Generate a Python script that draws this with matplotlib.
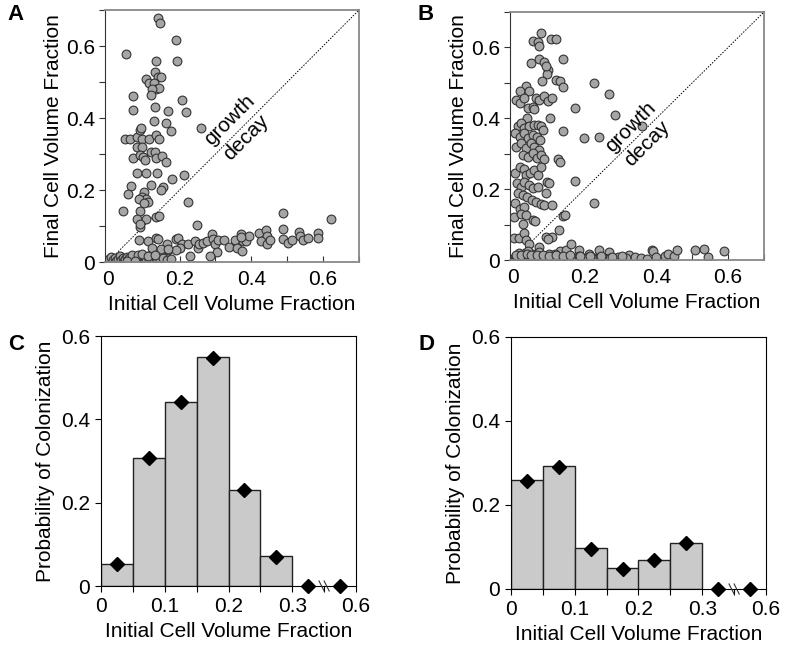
import numpy as np
import matplotlib
matplotlib.use('Agg')
import matplotlib.pyplot as plt

plt.rcParams['font.family'] = ['Liberation Sans', 'DejaVu Sans']
plt.rcParams['font.size'] = 15

# ---- panel A scatter (initial vs final volume fraction) ----
a_x = [0.139, 0.144, 0.050, 0.189, 0.194, 0.133, 0.106, 0.114, 0.131, 0.139, 0.147, 0.128,
       0.135, 0.143, 0.124, 0.069, 0.121, 0.207, 0.219, 0.069, 0.131, 0.167, 0.161, 0.177,
       0.259, 0.128, 0.048, 0.061, 0.080, 0.096, 0.115, 0.133, 0.143, 0.089, 0.093, 0.081,
       0.094, 0.070, 0.089, 0.098, 0.103, 0.121, 0.131, 0.135, 0.152, 0.161, 0.081, 0.107,
       0.137, 0.180, 0.212, 0.064, 0.056, 0.121, 0.154, 0.148, 0.101, 0.094, 0.107, 0.087,
       0.112, 0.101, 0.089, 0.041, 0.223, 0.081, 0.107, 0.135, 0.143, 0.089, 0.089, 0.248,
       # lower band
       0.087, 0.112, 0.133, 0.141, 0.124, 0.149, 0.166, 0.168, 0.189, 0.196, 0.207, 0.200,
       0.189, 0.224, 0.228, 0.244, 0.250, 0.254, 0.265, 0.276, 0.291, 0.293, 0.300, 0.304,
       0.285, 0.307, 0.325, 0.337, 0.354, 0.359, 0.372, 0.376, 0.374, 0.385, 0.394, 0.422,
       0.441, 0.443, 0.428, 0.444, 0.452, 0.487, 0.487, 0.489, 0.502, 0.513, 0.533, 0.535,
       0.544, 0.559, 0.585, 0.587, 0.622, 0.371, 0.149, 0.168,
       # near zero
       0.004, 0.009, 0.014, 0.019, 0.022, 0.028, 0.033, 0.036, 0.041, 0.045, 0.048, 0.053,
       0.057, 0.060, 0.064, 0.068, 0.072, 0.076, 0.079, 0.083, 0.087, 0.091, 0.095, 0.099,
       0.103, 0.107, 0.111, 0.116, 0.120, 0.124, 0.128, 0.133, 0.138, 0.146, 0.153, 0.164,
       0.177, 0.066, 0.084, 0.095, 0.112, 0.131, 0.052, 0.075]
a_y = [0.678, 0.664, 0.577, 0.618, 0.557, 0.557, 0.509, 0.496, 0.528, 0.514, 0.513, 0.498,
       0.481, 0.484, 0.481, 0.462, 0.465, 0.451, 0.417, 0.423, 0.430, 0.419, 0.387, 0.365,
       0.373, 0.393, 0.342, 0.341, 0.346, 0.341, 0.342, 0.354, 0.341, 0.367, 0.373, 0.320,
       0.320, 0.288, 0.297, 0.292, 0.283, 0.306, 0.306, 0.290, 0.294, 0.278, 0.246, 0.246,
       0.247, 0.231, 0.242, 0.211, 0.190, 0.213, 0.208, 0.199, 0.194, 0.180, 0.176, 0.176,
       0.166, 0.163, 0.143, 0.141, 0.168, 0.120, 0.120, 0.126, 0.129, 0.096, 0.106, 0.103,
       0.061, 0.059, 0.068, 0.063, 0.040, 0.031, 0.051, 0.033, 0.063, 0.068, 0.051, 0.038,
       0.033, 0.049, 0.017, 0.059, 0.040, 0.051, 0.054, 0.057, 0.077, 0.063, 0.051, 0.029,
       0.017, 0.061, 0.061, 0.042, 0.061, 0.038, 0.077, 0.059, 0.031, 0.057, 0.071, 0.081,
       0.089, 0.073, 0.059, 0.051, 0.061, 0.137, 0.091, 0.065, 0.054, 0.061, 0.082, 0.073,
       0.061, 0.066, 0.080, 0.066, 0.120, 0.070, 0.036, 0.036,
       0.008, 0.015, 0.006, 0.012, 0.004, 0.009, 0.017, 0.005, 0.011, 0.003, 0.008, 0.014,
       0.006, 0.010, 0.004, 0.012, 0.007, 0.003, 0.009, 0.015, 0.005, 0.011, 0.006, 0.013,
       0.004, 0.009, 0.016, 0.005, 0.011, 0.007, 0.004, 0.012, 0.008, 0.005, 0.010, 0.006,
       0.007, 0.020, 0.019, 0.021, 0.018, 0.020, 0.002, 0.002]

# ---- panel B scatter ----
b_x = [0.079, 0.057, 0.071, 0.106, 0.120, 0.074, 0.051, 0.074, 0.088, 0.097, 0.094, 0.093,
       0.141, 0.081, 0.120, 0.132, 0.141, 0.227, 0.269, 0.009, 0.019, 0.037, 0.019, 0.046,
       0.032, 0.042, 0.057, 0.065, 0.074, 0.088, 0.097, 0.109, 0.060, 0.174, 0.285, 0.104,
       0.039, 0.014, 0.023, 0.032, 0.046, 0.060, 0.069, 0.079, 0.085, 0.007, 0.019, 0.032,
       0.042, 0.056, 0.067, 0.076, 0.141, 0.199, 0.241, 0.359, 0.009, 0.023, 0.037, 0.051,
       0.060, 0.072, 0.028, 0.042, 0.056, 0.067, 0.079, 0.088, 0.125, 0.130, 0.007, 0.019,
       0.030, 0.037, 0.048, 0.060, 0.069, 0.079, 0.094, 0.100, 0.174, 0.011, 0.023, 0.032,
       0.046, 0.056, 0.069, 0.014, 0.028, 0.039, 0.054, 0.065, 0.079, 0.093, 0.088, 0.109,
       0.227, 0.007, 0.019, 0.032, 0.002, 0.023, 0.037, 0.056, 0.063, 0.028, 0.141, 0.144,
       0.002, 0.017, 0.030, 0.037, 0.046, 0.072, 0.093, 0.109, 0.097, 0.128,
       # low band
       0.056, 0.074, 0.102, 0.130, 0.148, 0.162, 0.185, 0.213, 0.241, 0.269, 0.324, 0.341,
       0.356, 0.375, 0.389, 0.391, 0.398, 0.424, 0.433, 0.449, 0.458, 0.507, 0.532, 0.544,
       0.588, 0.017, 0.026, 0.043, 0.088, 0.117,
       # near zero
       0.003, 0.006, 0.009, 0.012, 0.015, 0.018, 0.021, 0.024, 0.027, 0.030, 0.033, 0.036,
       0.039, 0.042, 0.045, 0.049, 0.052, 0.056, 0.059, 0.063, 0.066, 0.070, 0.074, 0.078,
       0.082, 0.086, 0.090, 0.095, 0.099, 0.104, 0.109, 0.114, 0.119, 0.125, 0.131, 0.137,
       0.143, 0.149, 0.156, 0.163, 0.170, 0.177, 0.185, 0.193, 0.201, 0.209, 0.218, 0.226,
       0.235, 0.244, 0.253, 0.262, 0.272, 0.282, 0.292, 0.303, 0.314, 0.010, 0.024, 0.038,
       0.051, 0.068, 0.084, 0.101, 0.121, 0.140, 0.160, 0.188, 0.215, 0.247, 0.277, 0.305]
b_y = [0.641, 0.618, 0.615, 0.624, 0.624, 0.603, 0.556, 0.568, 0.558, 0.537, 0.526, 0.547,
       0.566, 0.504, 0.509, 0.504, 0.488, 0.500, 0.469, 0.452, 0.443, 0.492, 0.476, 0.476,
       0.457, 0.429, 0.433, 0.457, 0.452, 0.462, 0.450, 0.457, 0.426, 0.429, 0.408, 0.400,
       0.400, 0.377, 0.386, 0.372, 0.377, 0.381, 0.381, 0.377, 0.367, 0.358, 0.348, 0.358,
       0.344, 0.353, 0.348, 0.339, 0.365, 0.344, 0.346, 0.379, 0.320, 0.330, 0.315, 0.330,
       0.320, 0.311, 0.297, 0.292, 0.301, 0.287, 0.297, 0.284, 0.284, 0.278, 0.246, 0.263,
       0.256, 0.240, 0.245, 0.254, 0.240, 0.263, 0.221, 0.218, 0.223, 0.216, 0.207, 0.221,
       0.212, 0.202, 0.207, 0.188, 0.183, 0.178, 0.169, 0.164, 0.158, 0.188, 0.155, 0.155,
       0.161, 0.160, 0.145, 0.150, 0.122, 0.131, 0.127, 0.112, 0.110, 0.103, 0.124, 0.127,
       0.063, 0.063, 0.076, 0.056, 0.046, 0.037, 0.065, 0.065, 0.058, 0.084,
       0.018, 0.023, 0.018, 0.025, 0.029, 0.046, 0.027, 0.018, 0.029, 0.022, 0.013, 0.008,
       0.007, 0.004, 0.029, 0.025, 0.008, 0.010, 0.016, 0.012, 0.029, 0.029, 0.032, 0.008,
       0.025, 0.021, 0.014, 0.024, 0.012, 0.016,
       0.006, 0.003, 0.010, 0.004, 0.008, 0.002, 0.011, 0.005, 0.007, 0.003, 0.009, 0.004,
       0.012, 0.006, 0.002, 0.008, 0.004, 0.010, 0.005, 0.003, 0.009, 0.006, 0.002, 0.011,
       0.004, 0.007, 0.003, 0.009, 0.005, 0.002, 0.008, 0.004, 0.010, 0.006, 0.003, 0.008,
       0.005, 0.002, 0.009, 0.004, 0.007, 0.003, 0.010, 0.005, 0.002, 0.008, 0.004, 0.006,
       0.003, 0.009, 0.005, 0.002, 0.007, 0.004, 0.008, 0.003, 0.006, 0.015, 0.013, 0.016,
       0.014, 0.013, 0.015, 0.012, 0.014, 0.011, 0.013, 0.012, 0.010, 0.011, 0.009, 0.010]

# ---- panels C, D: colonization probability per initial-volume bin ----
bin_labels = ['0', '0.1', '0.2', '0.3', '0.6']
c_bars = [0.054, 0.308, 0.442, 0.549, 0.231, 0.071]
c_pts = [0.054, 0.308, 0.441, 0.548, 0.230, 0.070, 0.0, 0.0]
d_bars = [0.260, 0.293, 0.097, 0.049, 0.068, 0.110]
d_pts = [0.258, 0.291, 0.095, 0.048, 0.068, 0.110, 0.0, 0.0]

fig = plt.figure(figsize=(7.86, 6.53), dpi=100)
W, H = 786.0, 653.0


def scatter_panel(rect, xs, ys, label, gtxt, dtxt):
    ax = fig.add_axes(rect)
    ax.plot([0, 0.7], [0, 0.7], color='black', lw=0.7, ls=(0, (1.5, 1.5)), zorder=1)
    ax.scatter(xs, ys, s=40, facecolor='#a5a5a5', edgecolor='#333333', linewidth=0.8, zorder=2)
    ax.set_xlim(-0.008, 0.7)
    ax.set_ylim(0, 0.7)
    ax.set_xticks(np.arange(0, 0.71, 0.1))
    ax.set_xticklabels(['0', '', '0.2', '', '0.4', '', '0.6', ''])
    ax.set_yticks(np.arange(0, 0.71, 0.1))
    ax.set_yticklabels(['0', '', '0.2', '', '0.4', '', '0.6', ''])
    ax.tick_params(axis='x', direction='in', length=4, color='#333333', pad=6)
    ax.tick_params(axis='y', direction='out', length=4, color='#333333', pad=3)
    for sp in ['top', 'right', 'bottom']:
        ax.spines[sp].set_color('#888888')
        ax.spines[sp].set_linewidth(1.3)
    ax.spines['left'].set_color('#333333')
    ax.set_xlabel('Initial Cell Volume Fraction', labelpad=4)
    ax.set_ylabel('Final Cell Volume Fraction', labelpad=2)
    ax.text(gtxt[0], gtxt[1], 'growth', rotation=45, ha='center', va='center',
            rotation_mode='anchor', fontsize=15)
    ax.text(dtxt[0], dtxt[1], 'decay', rotation=45, ha='center', va='center',
            rotation_mode='anchor', fontsize=15)
    return ax


def bar_panel(rect, bars, pts):
    ax = fig.add_axes(rect)
    centers = [0.025 + 0.05 * i for i in range(len(bars))]
    ax.bar(centers, bars, width=0.05, color='#cacaca', edgecolor='#222222', linewidth=1.0)
    pts_x = centers + [0.325, 0.375]
    ax.plot(pts_x, pts, 'D', color='black', markersize=7, clip_on=False, zorder=3)
    ax.set_xlim(0, 0.4)
    ax.set_ylim(0, 0.6)
    ax.set_xticks(np.arange(0, 0.41, 0.05))
    ax.set_xticklabels(['0', '', '0.1', '', '0.2', '', '0.3', '', '0.6'])
    ax.set_yticks([0, 0.2, 0.4, 0.6])
    ax.set_yticklabels(['0', '0.2', '0.4', '0.6'])
    ax.tick_params(direction='out', length=4, pad=4)
    # axis break mark
    for dx in (-0.004, 0.004):
        ax.plot([0.35 + dx - 0.004, 0.35 + dx + 0.004], [0.012, -0.012], color='#333333',
                lw=0.8, clip_on=False, zorder=4)
    ax.set_xlabel('Initial Cell Volume Fraction', labelpad=4)
    ax.set_ylabel('Probability of Colonization', labelpad=4)
    return ax


scatter_panel([105 / W, 1 - 262 / H, 254 / W, 252 / H], a_x, a_y, 'A',
              (0.339, 0.395), (0.386, 0.347))
scatter_panel([510 / W, 1 - 260 / H, 254 / W, 248 / H], b_x, b_y, 'B',
              (0.328, 0.376), (0.375, 0.330))
bar_panel([101 / W, 1 - 586 / H, 255 / W, 250 / H], c_bars, c_pts)
bar_panel([511 / W, 1 - 589 / H, 255 / W, 252 / H], d_bars, d_pts)

for lab, px, py in [('A', 15, 15), ('B', 426, 15), ('C', 16, 344), ('D', 426, 344)]:
    fig.text(px / W, 1 - py / H, lab, fontsize=16, fontweight='bold', ha='center', va='center')

fig.savefig('out.png', dpi=100)
